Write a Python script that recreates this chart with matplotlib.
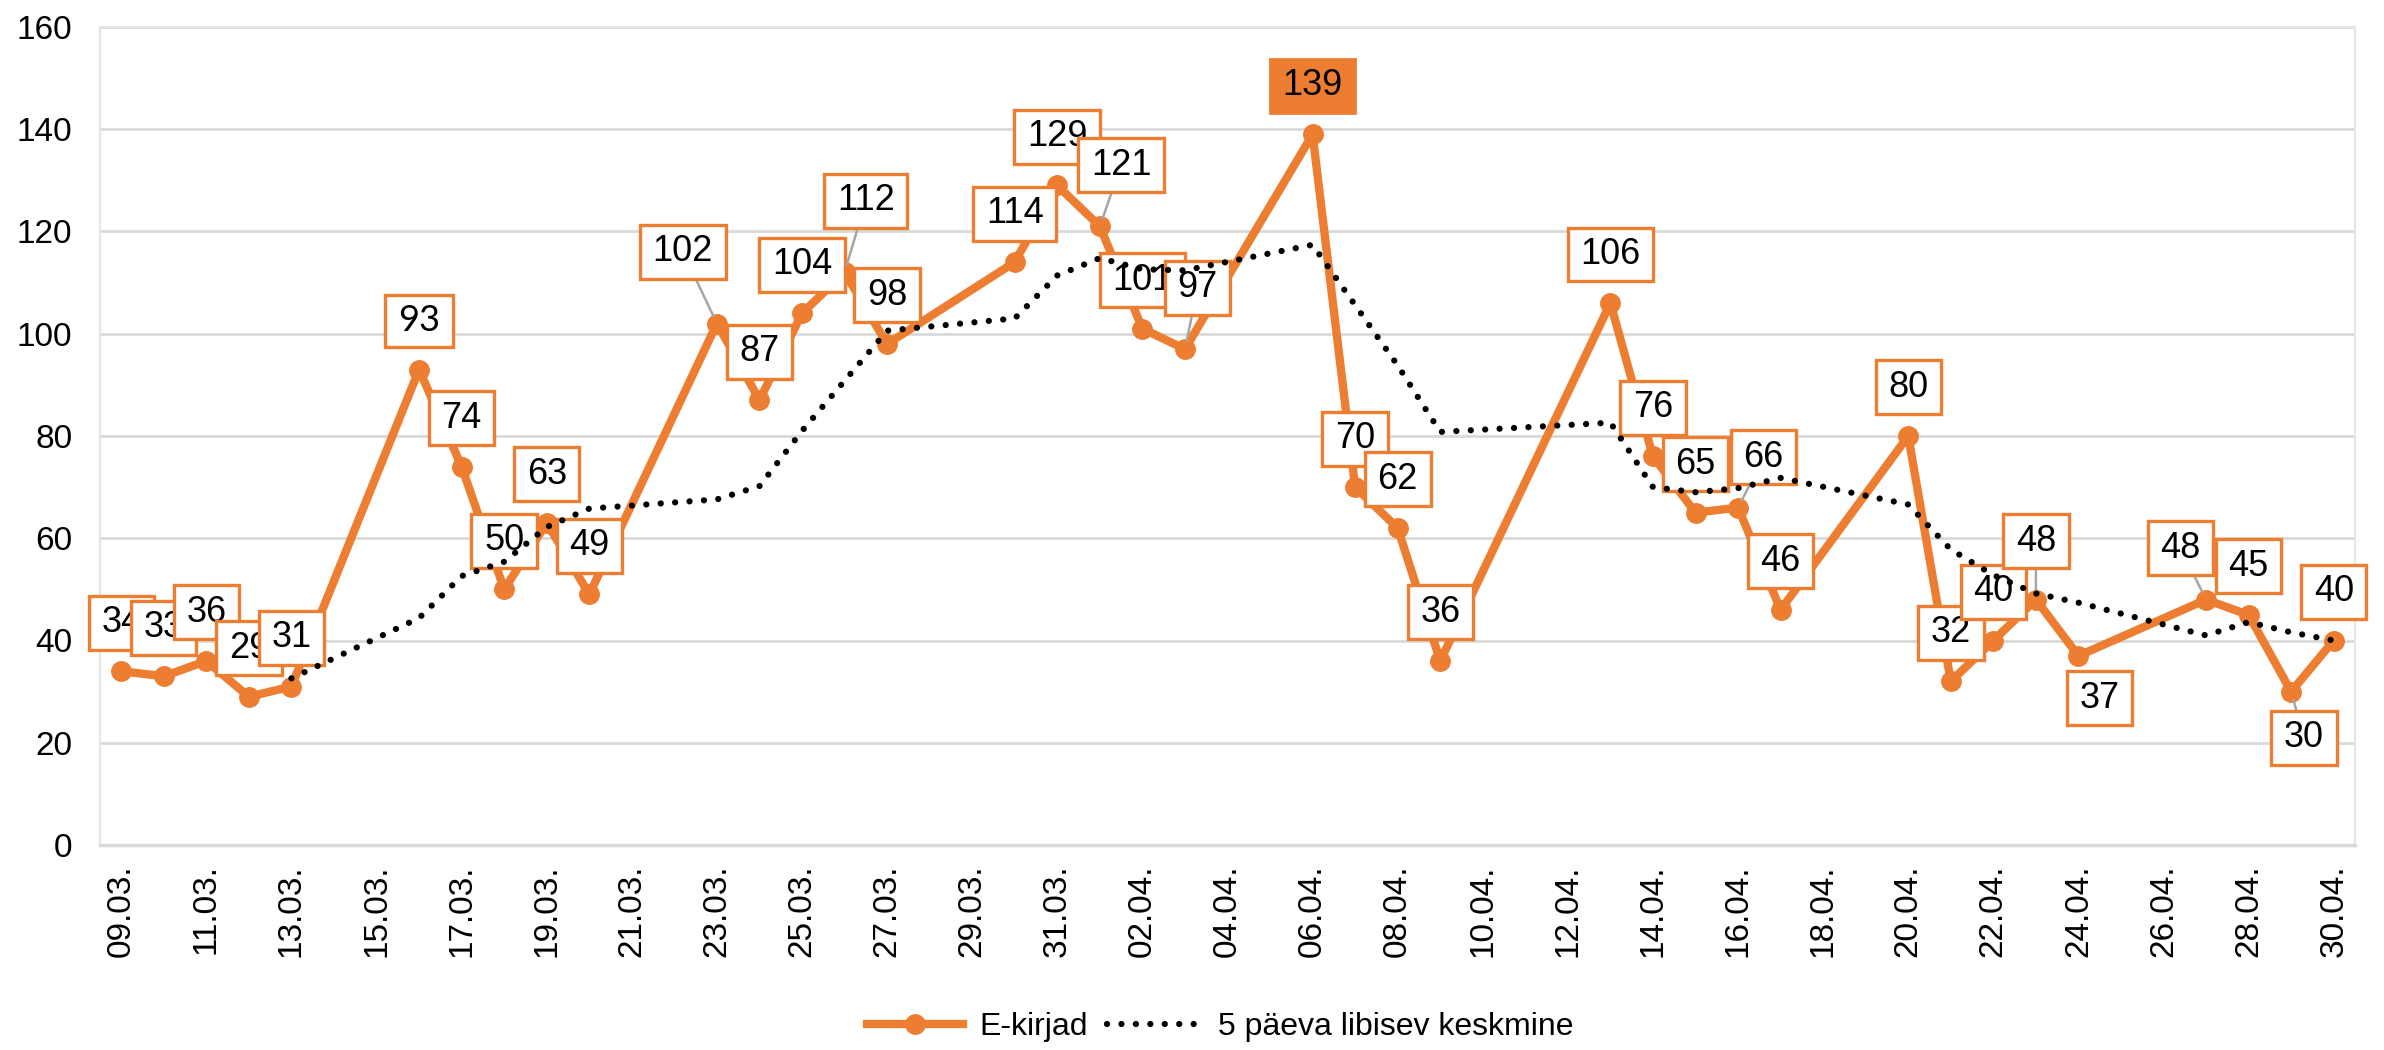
import matplotlib
matplotlib.use('Agg')
import matplotlib.pyplot as plt
import pandas as pd

plt.rcParams['font.family'] = ['Liberation Sans', 'DejaVu Sans']

# andmed (loetud pildilt)
dates = ['09.03.', '10.03.', '11.03.', '12.03.', '13.03.',
         '16.03.', '17.03.', '18.03.', '19.03.', '20.03.',
         '23.03.', '24.03.', '25.03.', '26.03.', '27.03.',
         '30.03.', '31.03.', '01.04.', '02.04.', '03.04.',
         '06.04.', '07.04.', '08.04.', '09.04.',
         '13.04.', '14.04.', '15.04.', '16.04.', '17.04.',
         '20.04.', '21.04.', '22.04.', '23.04.', '24.04.',
         '27.04.', '28.04.', '29.04.', '30.04.']
e_kirjad = [34, 33, 36, 29, 31,
            93, 74, 50, 63, 49,
            102, 87, 104, 112, 98,
            114, 129, 121, 101, 97,
            139, 70, 62, 36,
            106, 76, 65, 66, 46,
            80, 32, 40, 48, 37,
            48, 45, 30, 40]
# 5 paeva libisev keskmine, algab 13.03.
ma_dates = dates[4:]
libisev = [32.6, 44.4, 52.6, 55.4, 62.2, 65.8,
           67.6, 70.2, 81.0, 90.8, 100.6,
           103.0, 111.4, 114.8, 112.6, 112.4,
           117.4, 105.6, 93.8, 80.8,
           82.6, 70.0, 69.0, 69.8, 71.8,
           66.6, 57.8, 52.8, 49.2, 47.4,
           41.0, 43.6, 41.6, 40.0]
tick_labels = ['09.03.', '11.03.', '13.03.', '15.03.', '17.03.', '19.03.',
               '21.03.', '23.03.', '25.03.', '27.03.', '29.03.', '31.03.',
               '02.04.', '04.04.', '06.04.', '08.04.', '10.04.', '12.04.',
               '14.04.', '16.04.', '18.04.', '20.04.', '22.04.', '24.04.',
               '26.04.', '28.04.', '30.04.']

ORANGE = '#ED7D31'


def to_days(lst):
    d = pd.to_datetime([s + '2020' for s in lst], format='%d.%m.%Y')
    return list((d - pd.Timestamp('2020-03-09')).days)


x = to_days(dates)
x_ma = to_days(ma_dates)
x_ticks = to_days(tick_labels)

# sildi nihked (paevad, vaartus), vaikimisi otse kohal
label_shift = {
    '23.03.': (-0.8, 14), '26.03.': (0.5, 14), '01.04.': (0.5, 12),
    '03.04.': (0.3, 12), '16.04.': (0.6, 9.8), '23.04.': (0, 11.4),
    '24.04.': (0.5, -8.3), '27.04.': (-0.6, 10), '29.04.': (0.3, -9),
}
leaders = ['23.03.', '26.03.', '01.04.', '03.04.', '16.04.', '23.04.', '27.04.', '29.04.']

fig = plt.figure(figsize=(23.84, 10.5), dpi=100)
ax = fig.add_axes([100 / 2384, 1 - 845 / 1050, 2255 / 2384, 818 / 1050])

ax.plot(x, e_kirjad, color=ORANGE, lw=6, marker='o', markersize=14,
        label='E-kirjad', zorder=3, solid_joinstyle='round')
ax.plot(x_ma, libisev, color='black', lw=4.5, linestyle=(0, (0.01, 2.3)),
        dash_capstyle='round', label='5 päeva libisev keskmine', zorder=6)

for i in range(len(dates)):
    dx, dy = label_shift.get(dates[i], (0, 9.5))
    v = e_kirjad[i]
    if v == max(e_kirjad):
        box = dict(boxstyle='square,pad=0.35', mutation_aspect=0.75,
                   fc=ORANGE, ec=ORANGE, lw=2)
    else:
        box = dict(boxstyle='square,pad=0.35', mutation_aspect=0.75,
                   fc='white', ec=ORANGE, lw=2.4)
    arrow = None
    if dates[i] in leaders:
        arrow = dict(arrowstyle='-', color='#a6a6a6', lw=1.8, shrinkA=0, shrinkB=6)
    fam = ['Lato', 'DejaVu Sans'] if v == 93 else ['Liberation Sans', 'DejaVu Sans']
    ax.annotate(str(v), xy=(x[i], v), xytext=(x[i] + dx, v + dy),
                ha='center', va='center', fontsize=26, color='black', family=fam,
                bbox=box, arrowprops=arrow, zorder=5)

ax.set_xlim(-0.5, 52.5)
ax.set_ylim(0, 160)
ax.set_yticks(range(0, 161, 20))
ax.set_xticks(x_ticks)
ax.set_xticklabels(tick_labels, rotation=90)
ax.tick_params(axis='both', length=0, labelsize=24, colors='black')
ax.tick_params(axis='x', pad=14)
ax.tick_params(axis='y', pad=20)
ax.yaxis.grid(True, color='#d9d9d9', lw=2)
ax.set_axisbelow(True)
for s in ax.spines.values():
    s.set_color('#e6e6e6')
    s.set_linewidth(1.6)
ax.spines['bottom'].set_color('#d9d9d9')
ax.spines['bottom'].set_linewidth(2.5)

fig.legend(loc='center', bbox_to_anchor=(0.512, 0.022), ncol=2, frameon=False,
           fontsize=23, handlelength=3.0, columnspacing=0.6, handletextpad=0.5)

fig.savefig('out.png', dpi=100, facecolor='white')
